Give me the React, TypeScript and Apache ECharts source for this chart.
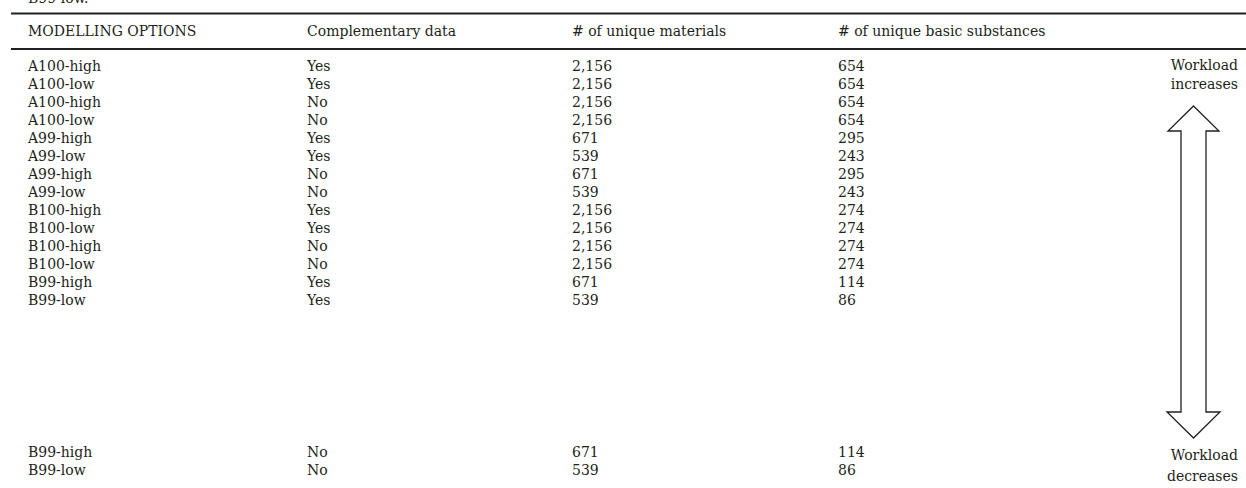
import React, { useEffect, useRef } from "react";
import * as echarts from "echarts";

const headers = ["MODELLING OPTIONS", "Complementary data", "# of unique materials", "# of unique basic substances"];
const options = ["A100-high", "A100-low", "A100-high", "A100-low", "A99-high", "A99-low", "A99-high", "A99-low", "B100-high", "B100-low", "B100-high", "B100-low", "B99-high", "B99-low", "B99-high", "B99-low"];
const complementary = ["Yes", "Yes", "No", "No", "Yes", "Yes", "No", "No", "Yes", "Yes", "No", "No", "Yes", "Yes", "No", "No"];
const materials = [2156, 2156, 2156, 2156, 671, 539, 671, 539, 2156, 2156, 2156, 2156, 671, 539, 671, 539];
const substances = [654, 654, 654, 654, 295, 243, 295, 243, 274, 274, 274, 274, 114, 86, 114, 86];
const topLabel = ["Workload", "increases"];
const bottomLabel = ["Workload", "decreases"];
const captionTail = "B99-low.";

const FONT = "'DejaVu Serif', serif";
const COLOR = "#231f20";
const colX = [28, 307, 572, 838];
const fmt = (n: number) => n.toLocaleString("en-US");

export default function App() {
  const ref = useRef<HTMLDivElement>(null);
  useEffect(() => {
    if (!ref.current) return;
    const chart = echarts.init(ref.current, null, { renderer: "svg" });
    const rowY = (i: number) => (i < 14 ? 66 + i * 18 : 452 + (i - 14) * 18);
    const txt = (text: string, x: number, y: number, align: string = "left") => ({
      type: "text",
      x,
      y,
      style: { text, font: `14px ${FONT}`, fill: COLOR, textAlign: align, textVerticalAlign: "middle" },
    });
    const els: any[] = [];
    els.push(txt(captionTail, 28, -2));
    els.push({ type: "line", shape: { x1: 11, y1: 13.5, x2: 1246, y2: 13.5 }, style: { stroke: COLOR, lineWidth: 2 } });
    els.push({ type: "line", shape: { x1: 11, y1: 49, x2: 1246, y2: 49 }, style: { stroke: COLOR, lineWidth: 2 } });
    headers.forEach((h, c) => els.push(txt(h, colX[c], 31)));
    options.forEach((o, i) => {
      const y = rowY(i);
      els.push(txt(o, colX[0], y));
      els.push(txt(complementary[i], colX[1], y));
      els.push(txt(fmt(materials[i]), colX[2], y));
      els.push(txt(String(substances[i]), colX[3], y));
    });
    topLabel.forEach((t, k) => els.push(txt(t, 1238, 65 + k * 19, "right")));
    bottomLabel.forEach((t, k) => els.push(txt(t, 1238, 455 + k * 21, "right")));
    els.push({
      type: "polygon",
      shape: {
        points: [
          [1193.5, 106], [1219, 131], [1206, 131], [1206, 412], [1220, 412], [1193.5, 438],
          [1167, 412], [1181, 412], [1181, 131], [1168, 131],
        ],
      },
      style: { fill: "#fff", stroke: COLOR, lineWidth: 1.3 },
    });
    chart.setOption({ animation: false, backgroundColor: "#fff", graphic: { elements: els } });
    return () => chart.dispose();
  }, []);
  return <div ref={ref} style={{ position: "fixed", left: 0, top: 0, width: 1246, height: 488 }} />;
}
